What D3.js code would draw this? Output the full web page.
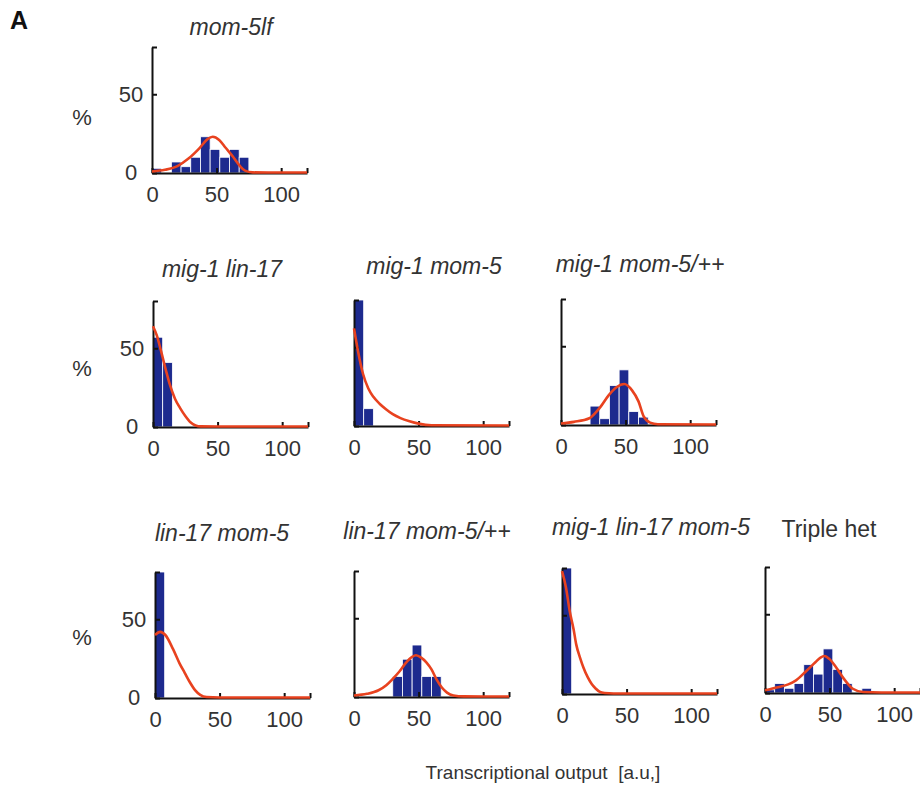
<!DOCTYPE html>
<html><head><meta charset="utf-8">
<script src="https://cdn.jsdelivr.net/npm/d3@7"></script>
<style>
body{margin:0;background:#fff}
text{font-family:"Liberation Sans",Arial,sans-serif;fill:#333}
</style>
</head><body>
<svg id="chart" width="920" height="799"></svg>
<script>
// ---------------- data ----------------
const panelTitles = ["mom-5lf","mig-1 lin-17","mig-1 mom-5","mig-1 mom-5/++",
  "lin-17 mom-5","lin-17 mom-5/++","mig-1 lin-17 mom-5","Triple het"];
const titleItalic = [true,true,true,true,true,true,true,false];

const binStarts = [0,7.5,15,22.5,30,37.5,45,52.5,60,67.5,75,82.5];
const binWidth = 7.5;

const barsMom5lf        = [3,0,7,4,10,23,15,10,15,10,0,0];
const barsMig1Lin17     = [57,41,0,0,0,0,0,0,0,0,0,0];
const barsMig1Mom5      = [80,11,0,0,0,0,0,0,0,0,0,0];
const barsMig1Mom5Het   = [0,0,0,12,4,25,35,8.5,5,0,0,0];
const barsLin17Mom5     = [80,0,0,0,0,0,0,0,0,0,0,0];
const barsLin17Mom5Het  = [0,0,0,0,13,24,33,13,13,0,0,0];
const barsTriple        = [80,0,0,0,0,0,0,0,0,0,0,0];
const barsTripleHet     = [2,6,3,6,18,12,28,15,6,0,3,0];

const fitMom5lf = [[0,1],[10,2],[20,4.5],[28,9],[37,16],[43,21.5],[47,23],[52,21],[57,16],[63,10],[68,4.5],[72,1.5],[78,0.4],[90,0.3],[120,0.3]];
const fitMig1Lin17 = [[0,64],[3,58],[6,49],[10,36],[13,27],[17,18],[21,12],[25,7],[29,3],[33,1],[37,0.4],[50,0.3],[120,0.3]];
const fitMig1Mom5 = [[0,62],[3,48],[7,33],[11,24],[15,18.5],[20,14],[25,10.5],[30,7.5],[36,5],[43,3],[50,1.5],[60,0.5],[120,0.3]];
const fitMig1Mom5Het = [[0,1],[10,2],[22,4.3],[27,8],[31,12],[37,19],[43,24],[49,26],[55,22],[60,15],[64,5.5],[69,1.5],[75,0.5],[120,0.3]];
const fitLin17Mom5 = [[0,40],[4,42],[8,40],[14,31],[19,22],[23,16],[27,10],[31,5],[35,2],[40,0.6],[50,0.3],[120,0.3]];
const fitLin17Mom5Het = [[0,1],[10,2],[19,4.3],[25,7.5],[30,11.5],[35,16],[40,21.5],[45,25.5],[48,26.5],[52,25],[56,22],[60,17.5],[64,11],[68,6],[72,2.8],[77,1],[85,0.4],[120,0.3]];
const fitTriple = [[0,78],[3,68],[6,52.5],[9,41],[11,31.5],[14,23],[16.5,17],[20,10.5],[23,6.3],[26,3.5],[29,1.5],[33,0.6],[40,0.3],[120,0.3]];
const fitTripleHet = [[0,1.7],[10,3.7],[18,5.5],[24,8],[32,14],[39,19.5],[43,22.5],[46,23.5],[50,21.5],[55,16.3],[62,8],[68,2.7],[76,0.6],[90,0.3],[120,0.3]];

const xTicks = [0,50,100,120];
const xTickLabels = ["0","50","100",""];
const yTicks = [0,50,80];
const yTickLabels = ["0","50",""];
const xDomain = [0,120];
const yDomain = [0,80];
const axisTitle = "Transcriptional output  [a.u,]";
const yTitle = "%";
const panelLetter = "A";

// ---------------- layout ----------------
const allBars = [barsMom5lf,barsMig1Lin17,barsMig1Mom5,barsMig1Mom5Het,barsLin17Mom5,barsLin17Mom5Het,barsTriple,barsTripleHet];
const allFits = [fitMom5lf,fitMig1Lin17,fitMig1Mom5,fitMig1Mom5Het,fitLin17Mom5,fitLin17Mom5Het,fitTriple,fitTripleHet];
const layout = [
  {x0:152,y0:173,tx:231,ty:35,ylab:true},
  {x0:153,y0:427,tx:222,ty:277,ylab:true},
  {x0:354,y0:426,tx:434,ty:274,ylab:false},
  {x0:561,y0:425,tx:640,ty:272,ylab:false},
  {x0:155,y0:698,tx:222,ty:541,ylab:true},
  {x0:354,y0:697,tx:427,ty:539,ylab:false},
  {x0:562,y0:694,tx:651,ty:535,ylab:false},
  {x0:765,y0:693,tx:829,ty:537,ylab:false}
];
const W = 155, H = 126;
const barColor = "#1d2a8e", lineColor = "#e8421f", axisColor = "#111";

const svg = d3.select("#chart");

svg.append("text").attr("x",10).attr("y",29).attr("font-size",25)
  .attr("font-weight","bold").style("fill","#111").text(panelLetter);

[125,376,645].forEach(py=>{
  svg.append("text").attr("x",82).attr("y",py).attr("text-anchor","middle")
    .attr("font-size",22).text(yTitle);
});

layout.forEach((L,i)=>{
  const x = d3.scaleLinear().domain(xDomain).range([0,W]);
  const y = d3.scaleLinear().domain(yDomain).range([H,0]);
  const g = svg.append("g").attr("transform",`translate(${L.x0},${L.y0-H})`);

  // title
  svg.append("text").attr("x",L.tx).attr("y",L.ty).attr("text-anchor","middle")
    .attr("font-size",23).attr("font-style",titleItalic[i]?"italic":"normal")
    .text(panelTitles[i]);

  // bars
  const vals = allBars[i];
  g.selectAll("rect.bar").data(binStarts.map((b,k)=>({b,v:vals[k]})).filter(d=>d.v>0))
    .join("rect").attr("class","bar")
    .attr("x",d=>x(d.b)).attr("width",d=>x(d.b+binWidth)-x(d.b))
    .attr("y",d=>y(Math.min(d.v,yDomain[1]))).attr("height",d=>H-y(Math.min(d.v,yDomain[1])))
    .attr("fill",barColor).attr("stroke","#fff").attr("stroke-width",0.8);

  // axes
  const xa = g.append("g").attr("transform",`translate(0,${H})`)
    .call(d3.axisBottom(x).tickValues(xTicks).tickFormat((d,k)=>xTickLabels[k])
      .tickSizeInner(-5).tickSizeOuter(0).tickPadding(13));
  const ya = g.append("g")
    .call(d3.axisLeft(y).tickValues(yTicks).tickFormat(()=> "")
      .tickSizeInner(-5).tickSizeOuter(0));
  [xa,ya].forEach(a=>{
    a.select(".domain").attr("stroke",axisColor).attr("stroke-width",2);
    a.selectAll(".tick line").attr("stroke",axisColor).attr("stroke-width",2);
    a.selectAll("text").attr("font-size",22).attr("font-family",null).style("fill","#333");
  });
  if (L.ylab) {
    yTicks.forEach((t,k)=>{
      if (!yTickLabels[k]) return;
      g.append("text").attr("x",-21).attr("y",y(t)).attr("dy","0.33em")
        .attr("text-anchor","middle").attr("font-size",22).text(yTickLabels[k]);
    });
  }

  // fit line
  g.append("path").datum(allFits[i])
    .attr("d",d3.line().x(d=>x(d[0])).y(d=>y(d[1])).curve(d3.curveMonotoneX))
    .attr("fill","none").attr("stroke",lineColor).attr("stroke-width",2.6);
});

svg.append("text").attr("x",543).attr("y",779).attr("text-anchor","middle")
  .attr("font-size",19).style("white-space","pre").text(axisTitle);
</script>
</body></html>
